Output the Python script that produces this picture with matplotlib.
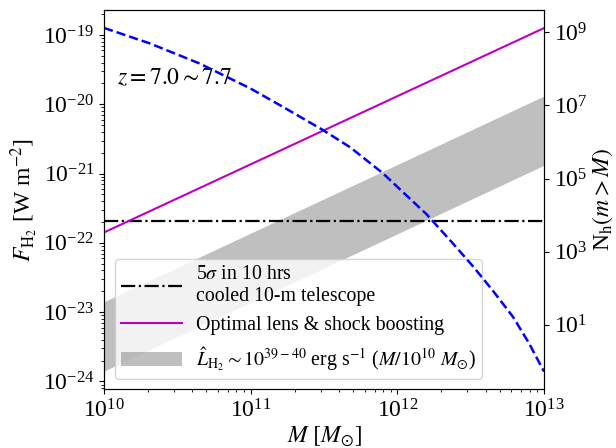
import numpy as np
import matplotlib
matplotlib.use("Agg")
import matplotlib.pyplot as plt
from matplotlib.ticker import NullLocator

plt.rcParams['font.family'] = ['Liberation Serif', 'DejaVu Serif']
plt.rcParams['mathtext.fontset'] = 'stix'

# ---- data ----
# detection limit (5 sigma in 10 hrs, cooled 10-m telescope), W m^-2
flux_limit = 2.09e-22
# optimal lens & shock boosting: log F at M = 1e10 and 1e13
lens_logM = [10.0, 13.0]
lens_logF = [-21.85, -18.90]
# band L_H2 ~ 1e39-40 erg/s (M/1e10 Msun): log F at M = 1e10 and 1e13
band_logM = [10.0, 13.0]
band_low_logF = [-23.85, -20.88]
band_high_logF = [-22.85, -19.88]
# cumulative halo number N_h(m > M) (right axis)
halo_logM = [10.0, 10.31, 10.65, 11.0, 11.22, 11.5, 11.68, 11.9, 12.2,
             12.38, 12.52, 12.65, 12.79, 12.9, 13.0]
halo_logN = [9.12, 8.70, 8.15, 7.46, 6.96, 6.31, 5.85, 5.15, 4.02,
             3.22, 2.58, 1.94, 1.21, 0.48, -0.28]
right_ticks = [1e1, 1e3, 1e5, 1e7, 1e9]

fig = plt.figure(figsize=(6.16, 4.48), dpi=100)
ax = fig.add_axes([0.1688, 0.1306, 0.7143, 0.8471])

M_lim = np.array([1e10, 1e13])
ax.plot(M_lim, [flux_limit, flux_limit], 'k-.', lw=1.6,
        label='5$\\sigma$ in 10 hrs\ncooled 10-m telescope')
ax.plot(10**np.array(lens_logM), 10**np.array(lens_logF), color='m', lw=1.5,
        label='Optimal lens & shock boosting')
ax.fill_between(10**np.array(band_logM), 10**np.array(band_low_logF),
                10**np.array(band_high_logF), color='gray', alpha=0.5, lw=0,
                label=r'$\hat{L}_{\rm H_2}\sim10^{39-40}$ erg s$^{-1}$ ($M/10^{10}\ M_{\odot}$)')

ax.set_xscale('log')
ax.set_yscale('log')
ax.set_xlim(1e10, 1e13)
ax.set_ylim(10**-24.116, 10**-18.639)
ax.set_xlabel(r'$M\ [M_{\odot}]$', fontsize=17, labelpad=2)
ax.set_ylabel(r'$F_{\rm H_2}$ [W m$^{-2}$]', fontsize=17, labelpad=2)
ax.tick_params(labelsize=17)

ax.text(0.03, 0.805, r'$z = 7.0 \sim 7.7$', transform=ax.transAxes, fontsize=17)

leg = ax.legend(loc='lower left', fontsize=14.3, handlelength=3.05,
                handletextpad=0.75, borderpad=0.3, borderaxespad=0.0,
                bbox_to_anchor=(0.025, 0.028))

ax2 = ax.twinx()
ax2.plot(10**np.array(halo_logM), 10**np.array(halo_logN), 'b--', lw=1.8)
ax2.set_yscale('log')
ax2.set_ylim(10**-0.77, 10**9.61)
ax2.set_yticks(right_ticks)
ax2.yaxis.set_minor_locator(NullLocator())
ax2.tick_params(labelsize=17)
ax2.set_ylabel(r'N$_{\rm h}(m>M)$', fontsize=17, labelpad=2)
ax2.set_xlim(1e10, 1e13)

fig.savefig('out.png', dpi=100)
